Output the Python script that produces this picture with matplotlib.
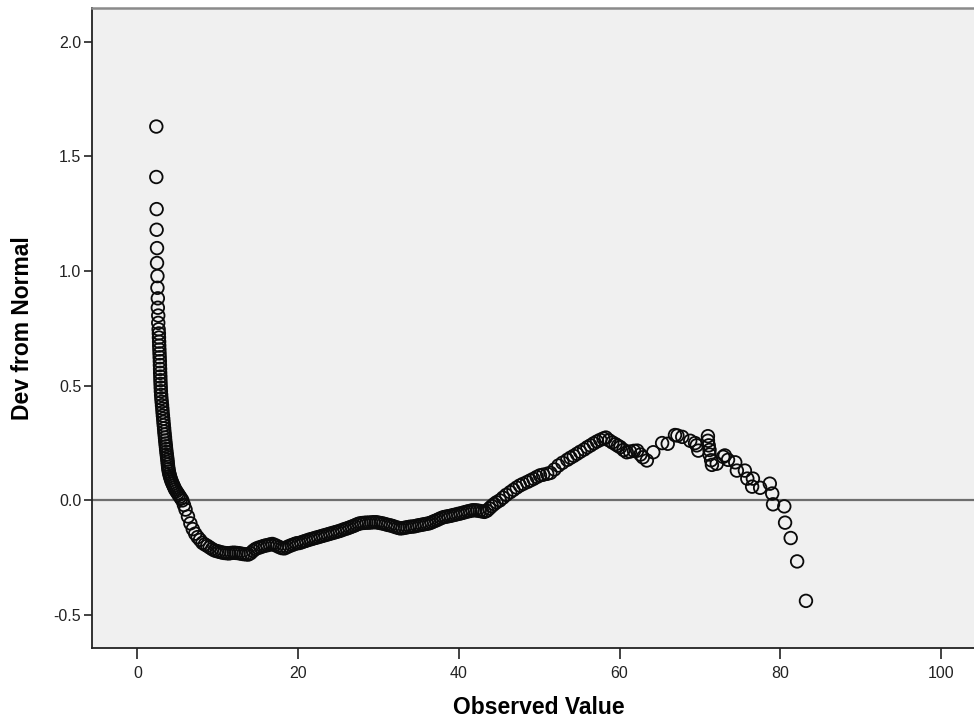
import numpy as np
import matplotlib.pyplot as plt

# steep left tail: observed value vs deviation from normal
tail_x = [2.36, 2.36, 2.40, 2.40, 2.45, 2.45, 2.50, 2.50, 2.55, 2.55, 2.60, 2.60, 2.65,
          2.68, 2.69, 2.71, 2.72, 2.74, 2.76, 2.78, 2.80, 2.81, 2.83, 2.84, 2.86, 2.87,
          2.89, 2.91, 2.93, 2.96, 2.99, 3.03, 3.07, 3.11, 3.14, 3.18, 3.22, 3.25, 3.29,
          3.33, 3.36, 3.40, 3.44, 3.47, 3.51, 3.55, 3.58, 3.62, 3.66, 3.70, 3.74, 3.77,
          3.80, 3.83, 3.87, 3.92, 3.98, 4.05, 4.12, 4.20, 4.30, 4.40, 4.50, 4.60, 4.70,
          4.85, 5.00, 5.15, 5.30, 5.45, 5.60]
tail_y = [1.63, 1.41, 1.27, 1.18, 1.10, 1.035, 0.978, 0.927, 0.881, 0.840, 0.806, 0.774, 0.746,
          0.728, 0.710, 0.692, 0.675, 0.658, 0.641, 0.624, 0.607, 0.590, 0.573, 0.556, 0.540, 0.524,
          0.508, 0.492, 0.476, 0.460, 0.445, 0.430, 0.415, 0.400, 0.385, 0.370, 0.356, 0.342, 0.328,
          0.314, 0.300, 0.287, 0.274, 0.261, 0.248, 0.236, 0.224, 0.212, 0.200, 0.189, 0.178, 0.167,
          0.156, 0.146, 0.136, 0.126, 0.116, 0.107, 0.098, 0.089, 0.080, 0.072, 0.064, 0.056, 0.048,
          0.040, 0.032, 0.024, 0.016, 0.008, 0.000]

# dense middle stretch
mid_x = [5.8, 6.0, 6.3, 6.6, 6.9, 7.2, 7.5, 7.8, 8.1, 8.4, 8.7, 9.0, 9.3, 9.6, 9.9,
         10.2, 10.5, 10.8, 11.1, 11.4, 11.7, 12.0, 12.3, 12.6, 12.9, 13.2, 13.5, 13.8, 14.1, 14.4,
         14.7, 15.0, 15.3, 15.6, 15.9, 16.2, 16.5, 16.8, 17.1, 17.4, 17.7, 18.0, 18.3, 18.6, 18.9,
         19.2, 19.5, 19.8, 20.1, 20.4, 20.7, 21.0, 21.3, 21.6, 21.9, 22.2, 22.5, 22.8, 23.1, 23.4,
         23.7, 24.0, 24.3, 24.6, 24.9, 25.2, 25.5, 25.8, 26.1, 26.4, 26.7, 27.0, 27.3, 27.6, 27.9,
         28.2, 28.5, 28.8, 29.1, 29.4, 29.7, 30.0, 30.3, 30.6, 30.9, 31.2, 31.5, 31.8, 32.1, 32.4,
         32.7, 33.0, 33.3, 33.6, 33.9, 34.2, 34.5, 34.8, 35.1, 35.4, 35.7, 36.0, 36.3, 36.6, 36.9,
         37.2, 37.5, 37.8, 38.1, 38.4, 38.7, 39.0, 39.3, 39.6, 39.9, 40.2, 40.5, 40.8, 41.1, 41.4,
         41.7, 42.0, 42.3, 42.6, 42.9, 43.2, 43.5, 43.8, 44.1, 44.4, 44.7]
mid_y = [-0.020, -0.040, -0.070, -0.100, -0.125, -0.145, -0.160, -0.172, -0.185, -0.192, -0.198,
         -0.205, -0.212, -0.218, -0.221, -0.224, -0.227, -0.229, -0.230, -0.231, -0.229, -0.228,
         -0.229, -0.230, -0.232, -0.234, -0.235, -0.236, -0.230, -0.220, -0.212, -0.207, -0.204,
         -0.200, -0.197, -0.195, -0.192, -0.190, -0.194, -0.199, -0.204, -0.208, -0.209, -0.204,
         -0.199, -0.195, -0.191, -0.187, -0.186, -0.183, -0.179, -0.176, -0.172, -0.169, -0.166,
         -0.163, -0.160, -0.157, -0.154, -0.151, -0.148, -0.145, -0.142, -0.139, -0.136, -0.133,
         -0.129, -0.125, -0.122, -0.118, -0.114, -0.110, -0.105, -0.101, -0.099, -0.098, -0.097,
         -0.097, -0.096, -0.095, -0.095, -0.097, -0.099, -0.101, -0.104, -0.107, -0.109, -0.112,
         -0.116, -0.119, -0.122, -0.121, -0.119, -0.117, -0.115, -0.114, -0.113, -0.110, -0.108,
         -0.106, -0.104, -0.102, -0.100, -0.096, -0.091, -0.087, -0.082, -0.077, -0.073, -0.071,
         -0.069, -0.067, -0.064, -0.062, -0.059, -0.057, -0.054, -0.051, -0.048, -0.046, -0.043,
         -0.043, -0.044, -0.046, -0.048, -0.050, -0.045, -0.035, -0.025, -0.016, -0.008]

# rising stretch up to the first peak
rise_x = [45.1, 45.5, 45.9, 46.4, 46.8, 47.2, 47.6, 48.0, 48.5, 48.9, 49.3, 49.7, 50.1, 50.5,
          51.0, 51.4, 51.9, 52.4, 52.9, 53.5, 53.9, 54.3, 54.7, 55.1, 55.6, 56.0, 56.4, 56.8,
          57.2, 57.6, 58.0, 58.3, 58.7, 59.1, 59.5, 59.8, 60.1, 60.5, 60.9, 61.3, 61.8, 62.2,
          62.6, 62.9, 63.4]
rise_y = [0.000, 0.012, 0.024, 0.036, 0.046, 0.056, 0.065, 0.072, 0.080, 0.087, 0.094, 0.102,
          0.109, 0.112, 0.116, 0.120, 0.135, 0.152, 0.164, 0.177, 0.186, 0.194, 0.203, 0.212,
          0.222, 0.232, 0.240, 0.249, 0.257, 0.264, 0.270, 0.274, 0.262, 0.253, 0.245, 0.238,
          0.232, 0.220, 0.210, 0.213, 0.216, 0.217, 0.200, 0.188, 0.174]

# sparse upper tail
upper_x = [64.2, 65.3, 66.0, 66.9, 67.2, 67.8, 68.8, 69.4, 69.6, 69.8, 71.0, 71.0, 71.1, 71.2,
           71.2, 71.4, 71.5, 72.1, 72.9, 73.1, 73.5, 74.4, 74.6, 75.6, 75.9, 76.6, 76.5, 77.5,
           78.7, 79.0, 79.1, 80.5, 80.6, 81.3, 82.1, 83.2]
upper_y = [0.210, 0.250, 0.247, 0.285, 0.283, 0.277, 0.260, 0.250, 0.240, 0.217, 0.280, 0.260,
           0.240, 0.220, 0.200, 0.175, 0.155, 0.160, 0.190, 0.196, 0.177, 0.166, 0.130, 0.130,
           0.095, 0.095, 0.060, 0.055, 0.073, 0.030, -0.017, -0.026, -0.097, -0.164, -0.266, -0.438]

obs = np.concatenate([tail_x, mid_x, rise_x, upper_x])
dev = np.concatenate([tail_y, mid_y, rise_y, upper_y])

plt.rcParams['font.family'] = ['Liberation Sans', 'DejaVu Sans']

fig = plt.figure(figsize=(9.74, 7.23), dpi=100)
ax = fig.add_axes([0.0948, 0.1042, 0.9175, 0.8848])
ax.set_facecolor('#f0f0f0')

ax.axhline(0, color='#6e6e6e', lw=1.6, zorder=1)
ax.scatter(obs, dev, s=82, facecolors='none', edgecolors='#0a0a0a', linewidths=1.3, zorder=2)

ax.set_xlim(-5.6, 105.6)
ax.set_ylim(-0.642, 2.147)
ax.set_xticks([0, 20, 40, 60, 80, 100])
ax.set_yticks([-0.5, 0.0, 0.5, 1.0, 1.5, 2.0])
ax.yaxis.set_major_formatter(plt.FormatStrFormatter('%.1f'))
ax.tick_params(direction='out', width=1.2, labelsize=11.5, colors='#222222')
ax.tick_params(axis='x', length=8, pad=5)
ax.tick_params(axis='y', length=6, pad=2)

for side in ['left', 'bottom']:
    ax.spines[side].set_color('#222222')
    ax.spines[side].set_linewidth(1.3)
ax.spines['top'].set_color('#8a8a8a')
ax.spines['top'].set_linewidth(1.8)

ax.set_xlabel('Observed Value', fontsize=16.5, fontweight='bold', labelpad=11)
ax.set_ylabel('Dev from Normal', fontsize=16.5, fontweight='bold', labelpad=14)

fig.savefig('out.png', dpi=100)
